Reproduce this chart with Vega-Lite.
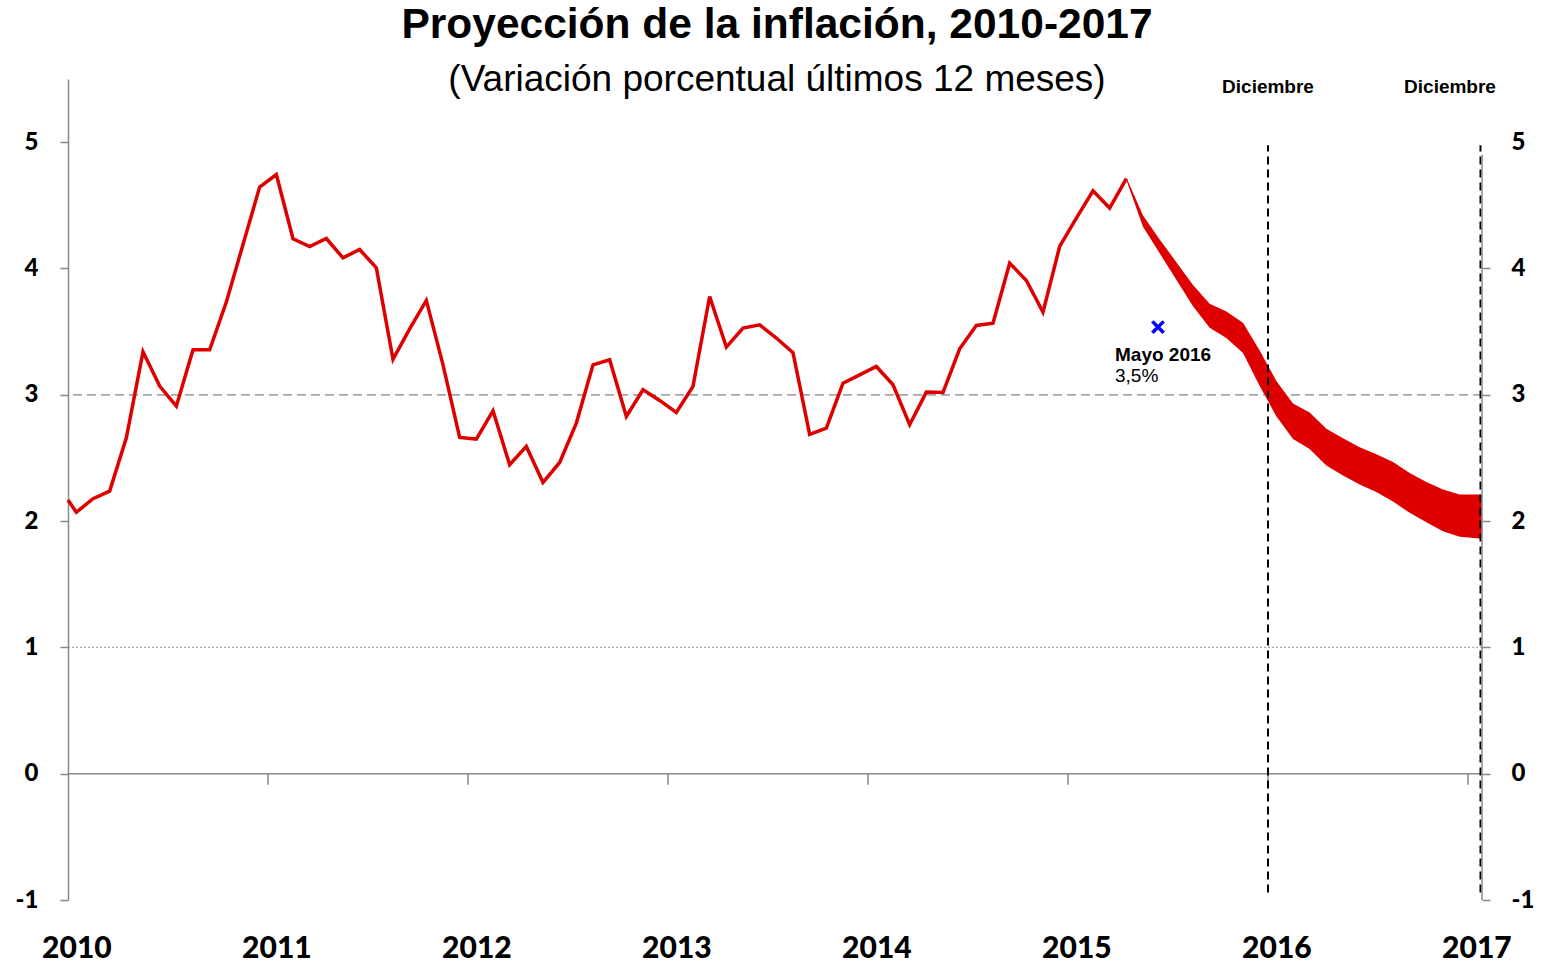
{
  "$schema": "https://vega.github.io/schema/vega-lite/v6.json",
  "width": 1414,
  "height": 821,
  "autosize": {"type": "none"},
  "padding": {"left": 68, "top": 79, "right": 59, "bottom": 65},
  "background": "white",
  "config": {"view": {"stroke": null}, "axis": {"grid": false, "title": null}},
  "layer": [
    {
      "data": {"values": [{"y": 3}]},
      "mark": {"type": "rule", "color": "#A6A6A6", "strokeWidth": 1.75, "strokeDash": [9, 5]},
      "encoding": {
        "y": {"field": "y", "type": "quantitative", "scale": {"domain": [-1, 5.5], "nice": false, "zero": false}, "axis": null}
      }
    },
    {
      "data": {"values": [{"y": 1}]},
      "mark": {"type": "rule", "color": "#999999", "strokeWidth": 1, "strokeDash": [2, 2]},
      "encoding": {
        "y": {"field": "y", "type": "quantitative", "scale": {"domain": [-1, 5.5], "nice": false, "zero": false}, "axis": null}
      }
    },
    {
      "data": {"values": [{"y": 0}]},
      "mark": {"type": "rule", "color": "#888888", "strokeWidth": 1.5},
      "encoding": {
        "y": {"field": "y", "type": "quantitative", "scale": {"domain": [-1, 5.5], "nice": false, "zero": false}, "axis": null}
      }
    },
    {
      "data": {"values": [{"x": 2011}, {"x": 2012}, {"x": 2013}, {"x": 2014}, {"x": 2015}, {"x": 2016}, {"x": 2017}]},
      "mark": {"type": "rule", "color": "#888888", "strokeWidth": 1.5},
      "encoding": {
        "x": {"field": "x", "type": "quantitative", "scale": {"domain": [2010, 2017.07], "nice": false, "zero": false}, "axis": null},
        "y": {"datum": 0, "type": "quantitative", "scale": {"domain": [-1, 5.5], "nice": false, "zero": false}, "axis": null},
        "y2": {"datum": -0.087}
      }
    },
    {
      "data": {"values": [
        {"x": 2015.2917, "sup": 4.72, "inf": 4.70},
        {"x": 2015.375, "sup": 4.42, "inf": 4.33},
        {"x": 2015.4583, "sup": 4.23, "inf": 4.12},
        {"x": 2015.5417, "sup": 4.05, "inf": 3.91},
        {"x": 2015.625, "sup": 3.87, "inf": 3.70},
        {"x": 2015.7083, "sup": 3.72, "inf": 3.53},
        {"x": 2015.7917, "sup": 3.66, "inf": 3.45},
        {"x": 2015.875, "sup": 3.57, "inf": 3.33},
        {"x": 2015.9583, "sup": 3.35, "inf": 3.07},
        {"x": 2016.0417, "sup": 3.11, "inf": 2.83},
        {"x": 2016.125, "sup": 2.93, "inf": 2.65},
        {"x": 2016.2083, "sup": 2.86, "inf": 2.57},
        {"x": 2016.2917, "sup": 2.73, "inf": 2.44},
        {"x": 2016.375, "sup": 2.655, "inf": 2.36},
        {"x": 2016.4583, "sup": 2.585, "inf": 2.29},
        {"x": 2016.5417, "sup": 2.53, "inf": 2.23},
        {"x": 2016.625, "sup": 2.467, "inf": 2.155},
        {"x": 2016.7083, "sup": 2.38, "inf": 2.065},
        {"x": 2016.7917, "sup": 2.31, "inf": 1.99},
        {"x": 2016.875, "sup": 2.25, "inf": 1.92},
        {"x": 2016.9583, "sup": 2.21, "inf": 1.875},
        {"x": 2017.07, "sup": 2.21, "inf": 1.86}
      ]},
      "mark": {"type": "area", "color": "#DE0000", "opacity": 1},
      "encoding": {
        "x": {"field": "x", "type": "quantitative", "scale": {"domain": [2010, 2017.07], "nice": false, "zero": false}, "axis": null},
        "y": {"field": "sup", "type": "quantitative", "scale": {"domain": [-1, 5.5], "nice": false, "zero": false},
          "axis": {"orient": "right", "values": [-1, 0, 1, 2, 3, 4, 5], "labelExpr": "'' + datum.value", "domain": false,
            "ticks": true, "tickSize": 8, "tickWidth": 1.5,
            "tickColor": {"condition": {"test": "datum.value == 5", "value": "transparent"}, "value": "#888888"},
            "labelFont": "Lato", "labelFontWeight": 900, "labelFontSize": 24, "labelColor": "#000000", "labelPadding": 21}},
        "y2": {"field": "inf"}
      }
    },
    {
      "data": {"values": [
        {"x": 2010.0, "y": 2.166},
        {"x": 2010.0417, "y": 2.07},
        {"x": 2010.125, "y": 2.177},
        {"x": 2010.2083, "y": 2.237},
        {"x": 2010.2917, "y": 2.66},
        {"x": 2010.375, "y": 3.34},
        {"x": 2010.4583, "y": 3.069},
        {"x": 2010.5417, "y": 2.91},
        {"x": 2010.625, "y": 3.356},
        {"x": 2010.7083, "y": 3.356},
        {"x": 2010.7917, "y": 3.734},
        {"x": 2010.875, "y": 4.19},
        {"x": 2010.9583, "y": 4.644},
        {"x": 2011.0417, "y": 4.744},
        {"x": 2011.125, "y": 4.235},
        {"x": 2011.2083, "y": 4.174},
        {"x": 2011.2917, "y": 4.237},
        {"x": 2011.375, "y": 4.084},
        {"x": 2011.4583, "y": 4.15},
        {"x": 2011.5417, "y": 4.005},
        {"x": 2011.625, "y": 3.28},
        {"x": 2011.7083, "y": 3.522},
        {"x": 2011.7917, "y": 3.747},
        {"x": 2011.875, "y": 3.237},
        {"x": 2011.9583, "y": 2.662},
        {"x": 2012.0417, "y": 2.649},
        {"x": 2012.125, "y": 2.873},
        {"x": 2012.2083, "y": 2.446},
        {"x": 2012.2917, "y": 2.591},
        {"x": 2012.375, "y": 2.306},
        {"x": 2012.4583, "y": 2.464},
        {"x": 2012.5417, "y": 2.776},
        {"x": 2012.625, "y": 3.237},
        {"x": 2012.7083, "y": 3.277},
        {"x": 2012.7917, "y": 2.828},
        {"x": 2012.875, "y": 3.04},
        {"x": 2012.9583, "y": 2.955},
        {"x": 2013.0417, "y": 2.86},
        {"x": 2013.125, "y": 3.066},
        {"x": 2013.2083, "y": 3.778},
        {"x": 2013.2917, "y": 3.377},
        {"x": 2013.375, "y": 3.528},
        {"x": 2013.4583, "y": 3.554},
        {"x": 2013.5417, "y": 3.449},
        {"x": 2013.625, "y": 3.333},
        {"x": 2013.7083, "y": 2.686},
        {"x": 2013.7917, "y": 2.736},
        {"x": 2013.875, "y": 3.092},
        {"x": 2013.9583, "y": 3.158},
        {"x": 2014.0417, "y": 3.224},
        {"x": 2014.125, "y": 3.079},
        {"x": 2014.2083, "y": 2.763},
        {"x": 2014.2917, "y": 3.021},
        {"x": 2014.375, "y": 3.018},
        {"x": 2014.4583, "y": 3.364},
        {"x": 2014.5417, "y": 3.549},
        {"x": 2014.625, "y": 3.567},
        {"x": 2014.7083, "y": 4.042},
        {"x": 2014.7917, "y": 3.905},
        {"x": 2014.875, "y": 3.654},
        {"x": 2014.9583, "y": 4.174},
        {"x": 2015.0417, "y": 4.398},
        {"x": 2015.125, "y": 4.615},
        {"x": 2015.2083, "y": 4.478},
        {"x": 2015.2917, "y": 4.712}
      ]},
      "mark": {"type": "line", "color": "#DE0000", "strokeWidth": 3.5},
      "encoding": {
        "x": {"field": "x", "type": "quantitative", "scale": {"domain": [2010, 2017.07], "nice": false, "zero": false},
          "axis": {"orient": "bottom", "values": [2010.042, 2011.042, 2012.042, 2013.042, 2014.042, 2015.042, 2016.042, 2017.042], "labelExpr": "'' + floor(datum.value)",
            "domain": false, "ticks": false, "labelFont": "Lato", "labelFontWeight": 900, "labelFontSize": 30,
            "labelColor": "#000000", "labelBaseline": "alphabetic", "labelPadding": 57, "labelFlush": false, "labelOverlap": false}},
        "y": {"field": "y", "type": "quantitative", "scale": {"domain": [-1, 5.5], "nice": false, "zero": false},
          "axis": {"orient": "left", "values": [-1, 0, 1, 2, 3, 4, 5], "labelExpr": "'' + datum.value", "domain": true,
            "domainColor": "#888888", "domainWidth": 1.5, "ticks": true, "tickSize": 8, "tickWidth": 1.5, "tickColor": "#888888",
            "labelFont": "Lato", "labelFontWeight": 900, "labelFontSize": 24, "labelColor": "#000000", "labelPadding": 22}}
      }
    },
    {
      "data": {"values": [{"x": 2016.0}, {"x": 2017.0625}]},
      "mark": {"type": "rule", "color": "#000000", "strokeWidth": 2, "strokeDash": [8, 5]},
      "encoding": {
        "x": {"field": "x", "type": "quantitative", "scale": {"domain": [2010, 2017.07], "nice": false, "zero": false}, "axis": null},
        "y": {"datum": -0.94, "type": "quantitative", "scale": {"domain": [-1, 5.5], "nice": false, "zero": false}, "axis": null},
        "y2": {"datum": 4.976}
      }
    },
    {
      "data": {"values": [{"x": 2017.07}]},
      "mark": {"type": "rule", "color": "#888888", "strokeWidth": 1.5},
      "encoding": {
        "x": {"field": "x", "type": "quantitative", "scale": {"domain": [2010, 2017.07], "nice": false, "zero": false}, "axis": null},
        "y": {"datum": -1, "type": "quantitative", "scale": {"domain": [-1, 5.5], "nice": false, "zero": false}, "axis": null},
        "y2": {"datum": 4.9}
      }
    },
    {
      "data": {"values": [{"x": 2015.45, "y": 3.536}]},
      "mark": {"type": "point", "shape": "M-1,-1L1,1M-1,1L1,-1", "filled": false, "stroke": "#0000FF", "strokeWidth": 3.5, "size": 130, "opacity": 1},
      "encoding": {
        "x": {"field": "x", "type": "quantitative", "scale": {"domain": [2010, 2017.07], "nice": false, "zero": false}, "axis": null},
        "y": {"field": "y", "type": "quantitative", "scale": {"domain": [-1, 5.5], "nice": false, "zero": false}, "axis": null}
      }
    },
    {
      "data": {"values": [{"texto": "Proyección de la inflación, 2010-2017", "x": 2013.545, "y": 5.8246}]},
      "mark": {"type": "text", "font": "Liberation Sans", "fontWeight": "bold", "fontSize": 42.5, "align": "center", "baseline": "alphabetic", "color": "#000000"},
      "encoding": {
        "x": {"field": "x", "type": "quantitative", "scale": {"domain": [2010, 2017.07], "nice": false, "zero": false}, "axis": null},
        "y": {"field": "y", "type": "quantitative", "scale": {"domain": [-1, 5.5], "nice": false, "zero": false}, "axis": null},
        "text": {"field": "texto"}
      }
    },
    {
      "data": {"values": [{"texto": "(Variación porcentual últimos 12 meses)", "x": 2013.545, "y": 5.405}]},
      "mark": {"type": "text", "font": "Liberation Sans", "fontWeight": "normal", "fontSize": 37, "align": "center", "baseline": "alphabetic", "color": "#000000"},
      "encoding": {
        "x": {"field": "x", "type": "quantitative", "scale": {"domain": [2010, 2017.07], "nice": false, "zero": false}, "axis": null},
        "y": {"field": "y", "type": "quantitative", "scale": {"domain": [-1, 5.5], "nice": false, "zero": false}, "axis": null},
        "text": {"field": "texto"}
      }
    },
    {
      "data": {"values": [{"texto": "Diciembre", "x": 2016.0, "y": 5.3868}, {"texto": "Diciembre", "x": 2016.91, "y": 5.3868}]},
      "mark": {"type": "text", "font": "Liberation Sans", "fontWeight": "bold", "fontSize": 19, "align": "center", "baseline": "alphabetic", "color": "#000000"},
      "encoding": {
        "x": {"field": "x", "type": "quantitative", "scale": {"domain": [2010, 2017.07], "nice": false, "zero": false}, "axis": null},
        "y": {"field": "y", "type": "quantitative", "scale": {"domain": [-1, 5.5], "nice": false, "zero": false}, "axis": null},
        "text": {"field": "texto"}
      }
    },
    {
      "data": {"values": [{"texto": "Mayo 2016", "x": 2015.235, "y": 3.269}]},
      "mark": {"type": "text", "font": "Liberation Sans", "fontWeight": "bold", "fontSize": 19, "align": "left", "baseline": "alphabetic", "color": "#000000"},
      "encoding": {
        "x": {"field": "x", "type": "quantitative", "scale": {"domain": [2010, 2017.07], "nice": false, "zero": false}, "axis": null},
        "y": {"field": "y", "type": "quantitative", "scale": {"domain": [-1, 5.5], "nice": false, "zero": false}, "axis": null},
        "text": {"field": "texto"}
      }
    },
    {
      "data": {"values": [{"texto": "3,5%", "x": 2015.235, "y": 3.103}]},
      "mark": {"type": "text", "font": "Liberation Sans", "fontWeight": "normal", "fontSize": 19, "align": "left", "baseline": "alphabetic", "color": "#000000"},
      "encoding": {
        "x": {"field": "x", "type": "quantitative", "scale": {"domain": [2010, 2017.07], "nice": false, "zero": false}, "axis": null},
        "y": {"field": "y", "type": "quantitative", "scale": {"domain": [-1, 5.5], "nice": false, "zero": false}, "axis": null},
        "text": {"field": "texto"}
      }
    }
  ],
  "resolve": {"axis": {"x": "independent", "y": "independent"}}
}
